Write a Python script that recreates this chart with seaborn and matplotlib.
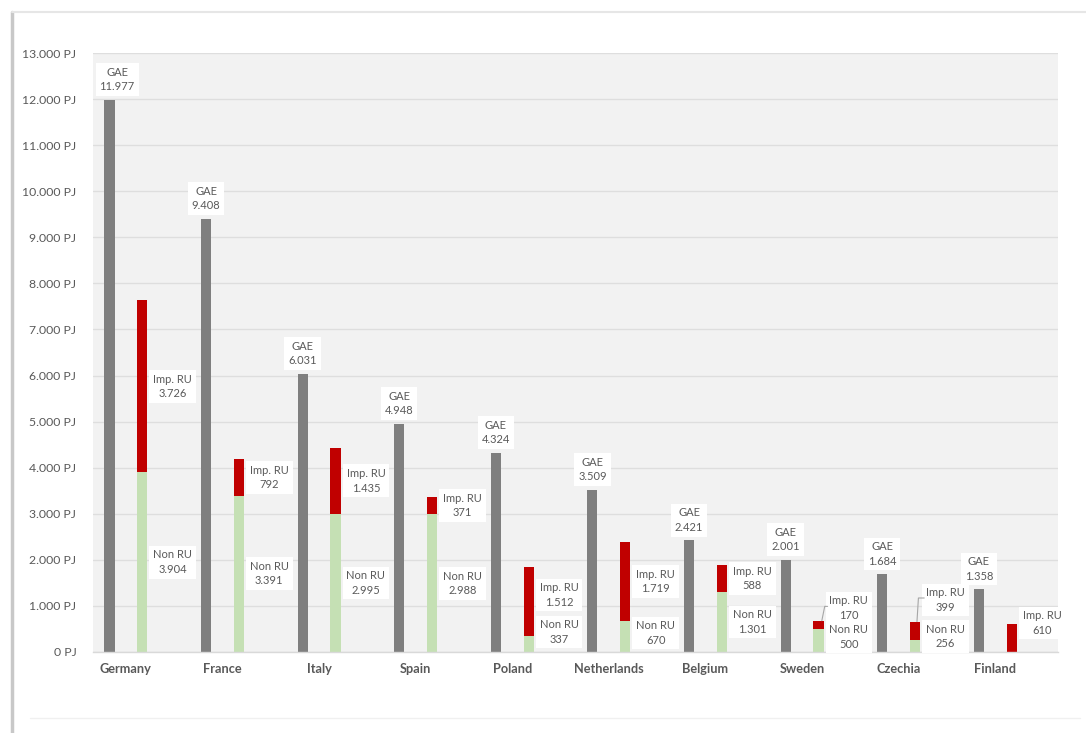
import matplotlib
matplotlib.use("Agg")
import matplotlib.pyplot as plt
from matplotlib.lines import Line2D
import seaborn as sns
import pandas as pd

# Gross available energy and its natural-gas composition per country (PJ)
countries = ["Germany", "France", "Italy", "Spain", "Poland",
             "Netherlands", "Belgium", "Sweden", "Czechia", "Finland"]
gae = [11977, 9408, 6031, 4948, 4324, 3509, 2421, 2001, 1684, 1358]
non_ru = [3904, 3391, 2995, 2988, 337, 670, 1301, 500, 256, 0]
imp_ru = [3726, 792, 1435, 371, 1512, 1719, 588, 170, 399, 610]
y_ticks = list(range(0, 13001, 1000))

GRAY = "#7F7F7F"
RED = "#C00000"
GREEN = "#C5E0B4"
TXT = "#595959"

sns.set_theme(style="white")
plt.rcParams["font.family"] = ["Lato", "DejaVu Sans"]


def fmt(v):
    return f"{v:,.0f}".replace(",", ".")


totals = [a + b for a, b in zip(non_ru, imp_ru)]
levels = ["GAE", "Stack"]
df_main = pd.DataFrame({
    "country": countries * 2,
    "series": ["GAE"] * len(countries) + ["Stack"] * len(countries),
    "value": gae + totals,
})
df_non = pd.DataFrame({
    "country": countries,
    "series": ["Stack"] * len(countries),
    "value": non_ru,
})

fig = plt.figure(figsize=(10.86, 7.33), dpi=100, facecolor="white")
ax = fig.add_axes([93 / 1086, 1 - 652 / 733, (1058 - 93) / 1086, (652 - 53) / 733])
ax.set_facecolor("#F2F2F2")

bar_kw = dict(x="country", y="value", hue="series", hue_order=levels,
              order=countries, width=0.68, gap=0.69, dodge=True,
              saturation=1, linewidth=0, legend=False, errorbar=None, ax=ax)
# Grey GAE bars and the full (red) height of the stacked bar
sns.barplot(data=df_main, palette={"GAE": GRAY, "Stack": RED}, **bar_kw)
# Non-Russian share painted over the lower part of the stacked bar
sns.barplot(data=df_non, palette={"GAE": GRAY, "Stack": GREEN}, **bar_kw)

ax.set_ylim(0, 13000)
ax.set_xlim(-0.34, 9.65)
ax.set_yticks(y_ticks)
ax.set_yticklabels([f"{fmt(t)} PJ" for t in y_ticks], color=TXT, fontsize=8.8)
ax.yaxis.grid(True, color="#DEDEDE", linewidth=1)
ax.set_axisbelow(True)
ax.tick_params(axis="y", length=0, pad=12)
ax.tick_params(axis="x", length=0, pad=8)
for lab in ax.get_xticklabels():
    lab.set_color(TXT)
    lab.set_fontweight("bold")
    lab.set_fontsize(9.2)
ax.set_xlabel("")
ax.set_ylabel("")
for s in ["top", "right", "left"]:
    ax.spines[s].set_visible(False)
ax.spines["bottom"].set_color("#D9D9D9")
ax.spines["bottom"].set_linewidth(1)

box = dict(boxstyle="square,pad=0.35", facecolor="white", edgecolor="none")
lab_kw = dict(ha="center", color=TXT, fontsize=8, linespacing=1.35,
              bbox=box, zorder=5)

off = 0.17
# GAE labels above the grey bars
for i, v in enumerate(gae):
    ax.text(i - off + (0.08 if i == 0 else 0), v + 170, f"GAE\n{fmt(v)}",
            va="bottom", **lab_kw)

# Label centres for the stacked segments where they are moved off the segment
imp_pos = {"Poland": 1237, "Sweden": 955, "Czechia": 1128, "Finland": 630}
non_pos = {"Poland": 434, "Netherlands": 412, "Czechia": 330, "Sweden": 325}
lx = 0.485
for i, c in enumerate(countries):
    imp_y = imp_pos.get(c, non_ru[i] + imp_ru[i] / 2)
    ax.text(i + lx, imp_y, f"Imp. RU\n{fmt(imp_ru[i])}", va="center", **lab_kw)
    if non_ru[i] > 0:
        non_y = non_pos.get(c, non_ru[i] / 2)
        ax.text(i + lx, non_y, f"Non RU\n{fmt(non_ru[i])}", va="center", **lab_kw)

# Leader lines for the small segments
for c, pts in {"Sweden": [(0.205, 680), (0.235, 990), (0.265, 990)],
               "Czechia": [(0.19, 660), (0.205, 1172), (0.265, 1172)]}.items():
    i = countries.index(c)
    ax.plot([i + p[0] for p in pts], [p[1] for p in pts],
            color="#A6A6A6", linewidth=0.8, zorder=6)

# Card outline with soft shadow
fig.add_artist(Line2D([12 / 1086, 12 / 1086], [0, 1 - 12 / 733],
                      color="#C8C8C8", linewidth=2.5))
fig.add_artist(Line2D([12 / 1086, 1], [1 - 12 / 733, 1 - 12 / 733],
                      color="#E6E6E6", linewidth=1.5))
fig.add_artist(Line2D([30 / 1086, 1080 / 1086], [1 - 718 / 733, 1 - 718 / 733],
                      color="#F0F0F0", linewidth=1))

fig.savefig("out.png", dpi=100, facecolor="white")
